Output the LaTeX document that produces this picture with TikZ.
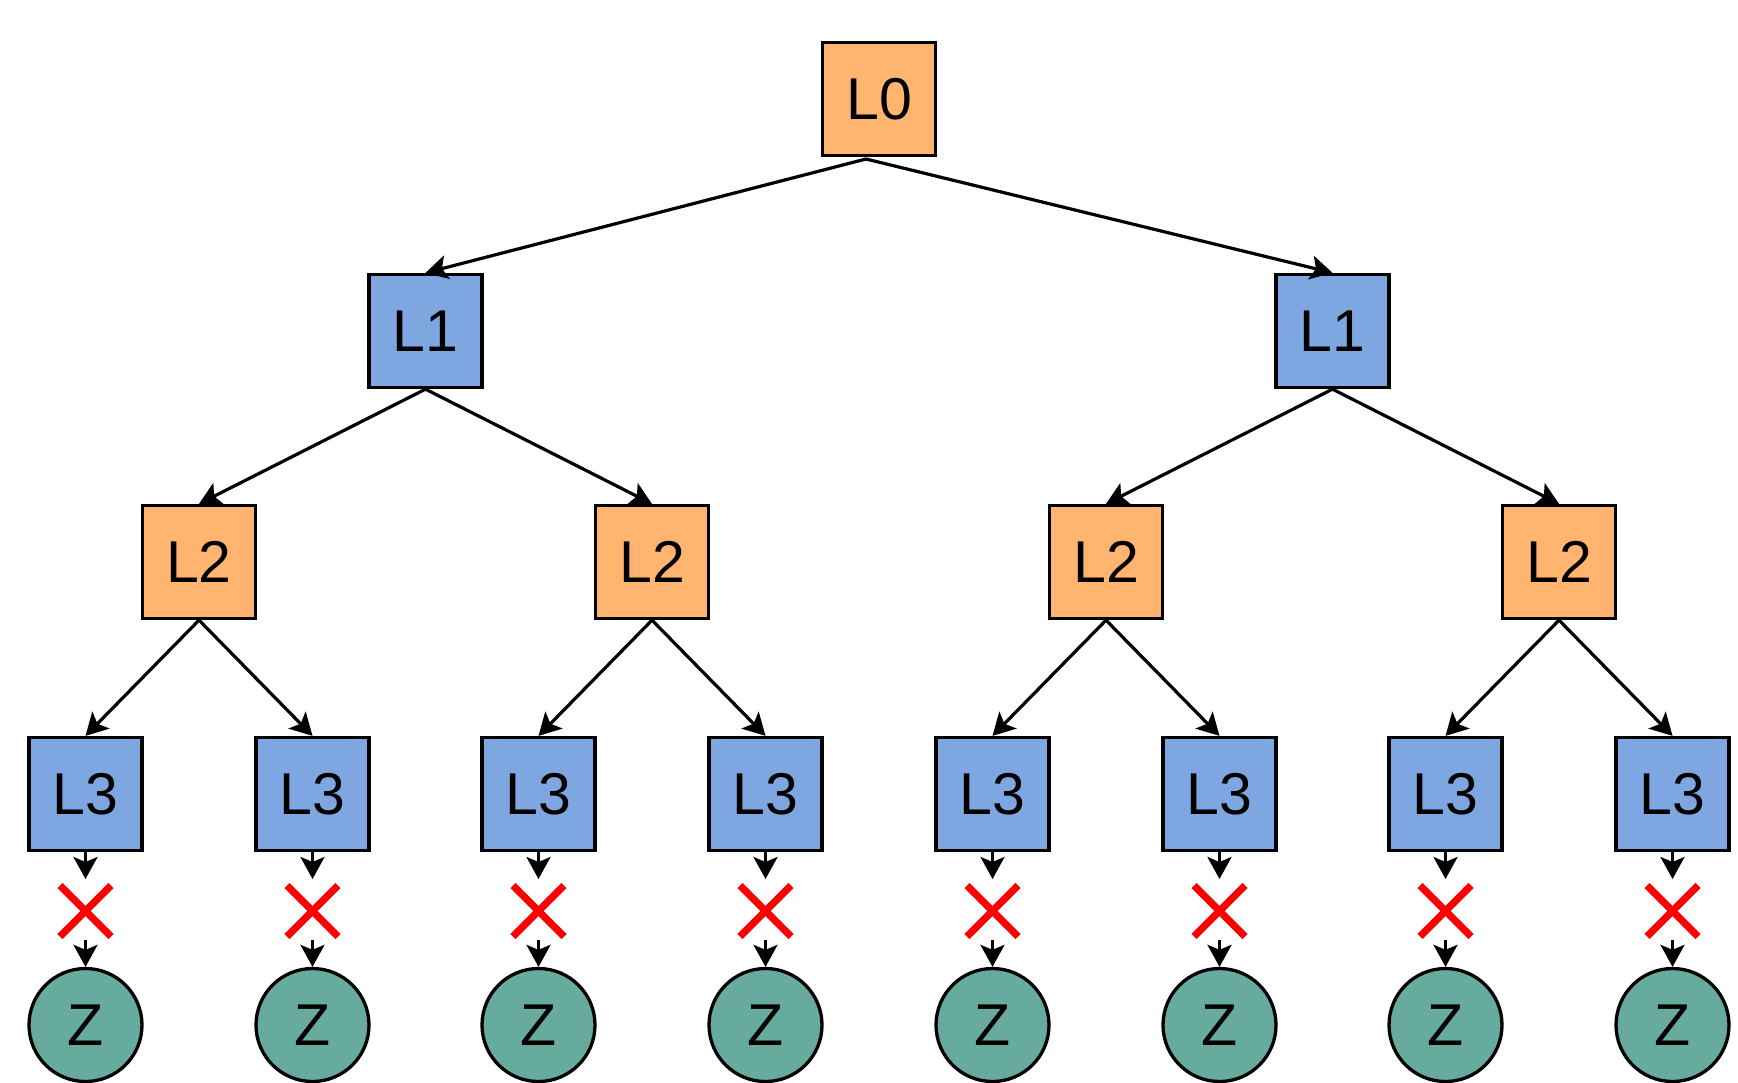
\documentclass[tikz,border=0pt]{standalone}
\usepackage{fontspec}
\setmainfont{Liberation Sans}
\usetikzlibrary{arrows.meta}
\definecolor{boxorange}{HTML}{FFB570}
\definecolor{boxblue}{HTML}{7EA6E0}
\definecolor{leafgreen}{HTML}{67AB9F}
\definecolor{cutred}{HTML}{FF0000}

\begin{document}
\begin{tikzpicture}[x=0.5pt,y=-0.5pt,
  lvl/.style={draw=black, line width=1.65pt, minimum size=56.5pt, inner sep=0pt,
              font=\fontsize{29.5}{30}\selectfont},
  evenlvl/.style={lvl, fill=boxorange},
  oddlvl/.style={lvl, fill=boxblue},
  leaf/.style={circle, draw=black, line width=1.65pt, fill=leafgreen,
               minimum size=56.5pt, inner sep=0pt, font=\fontsize{29.5}{30}\selectfont},
  link/.style={line width=1.6pt, -{Stealth[length=11pt,width=12pt,inset=2.5pt]}},
  cut/.style={draw=cutred, line width=3.6pt}
]
\useasboundingbox (0,0) rectangle (1738,1082);

% root
\node[evenlvl] (r) at (879,99) {L0};
\coordinate (rs) at (866,159);

% level 1
\node[oddlvl] (a1) at (425.5,331) {L1};
\node[oddlvl] (a2) at (1332.5,331) {L1};
\draw[link] (rs) -- (a1.north);
\draw[link] (rs) -- (a2.north);

% level 2
\node[evenlvl] (b1) at (199,562) {L2};
\node[evenlvl] (b2) at (652,562) {L2};
\node[evenlvl] (b3) at (1106,562) {L2};
\node[evenlvl] (b4) at (1559,562) {L2};
\draw[link] (a1.south) -- (b1.north);
\draw[link] (a1.south) -- (b2.north);
\draw[link] (a2.south) -- (b3.north);
\draw[link] (a2.south) -- (b4.north);

% level 3, the cut and the leaves
\foreach \i/\x/\p in {1/85.5/b1, 2/312.5/b1, 3/538.5/b2, 4/765.5/b2,
                      5/992.5/b3, 6/1219.5/b3, 7/1445.5/b4, 8/1672.5/b4} {
  \node[oddlvl] (c\i) at (\x,794) {L3};
  \draw[link] (\p.south) -- (c\i.north);
  \coordinate (u\i) at (\x,879);
  \coordinate (v\i) at (\x,940);
  \node[leaf] (z\i) at (\x,1025) {Z};
  \draw[link] (c\i.south) -- (u\i);
  \draw[link] (v\i) -- (z\i.north);
  \draw[cut] (\x-25.5,885.5) -- (\x+25.5,936.5);
  \draw[cut] (\x-25.5,936.5) -- (\x+25.5,885.5);
}
\end{tikzpicture}
\end{document}
